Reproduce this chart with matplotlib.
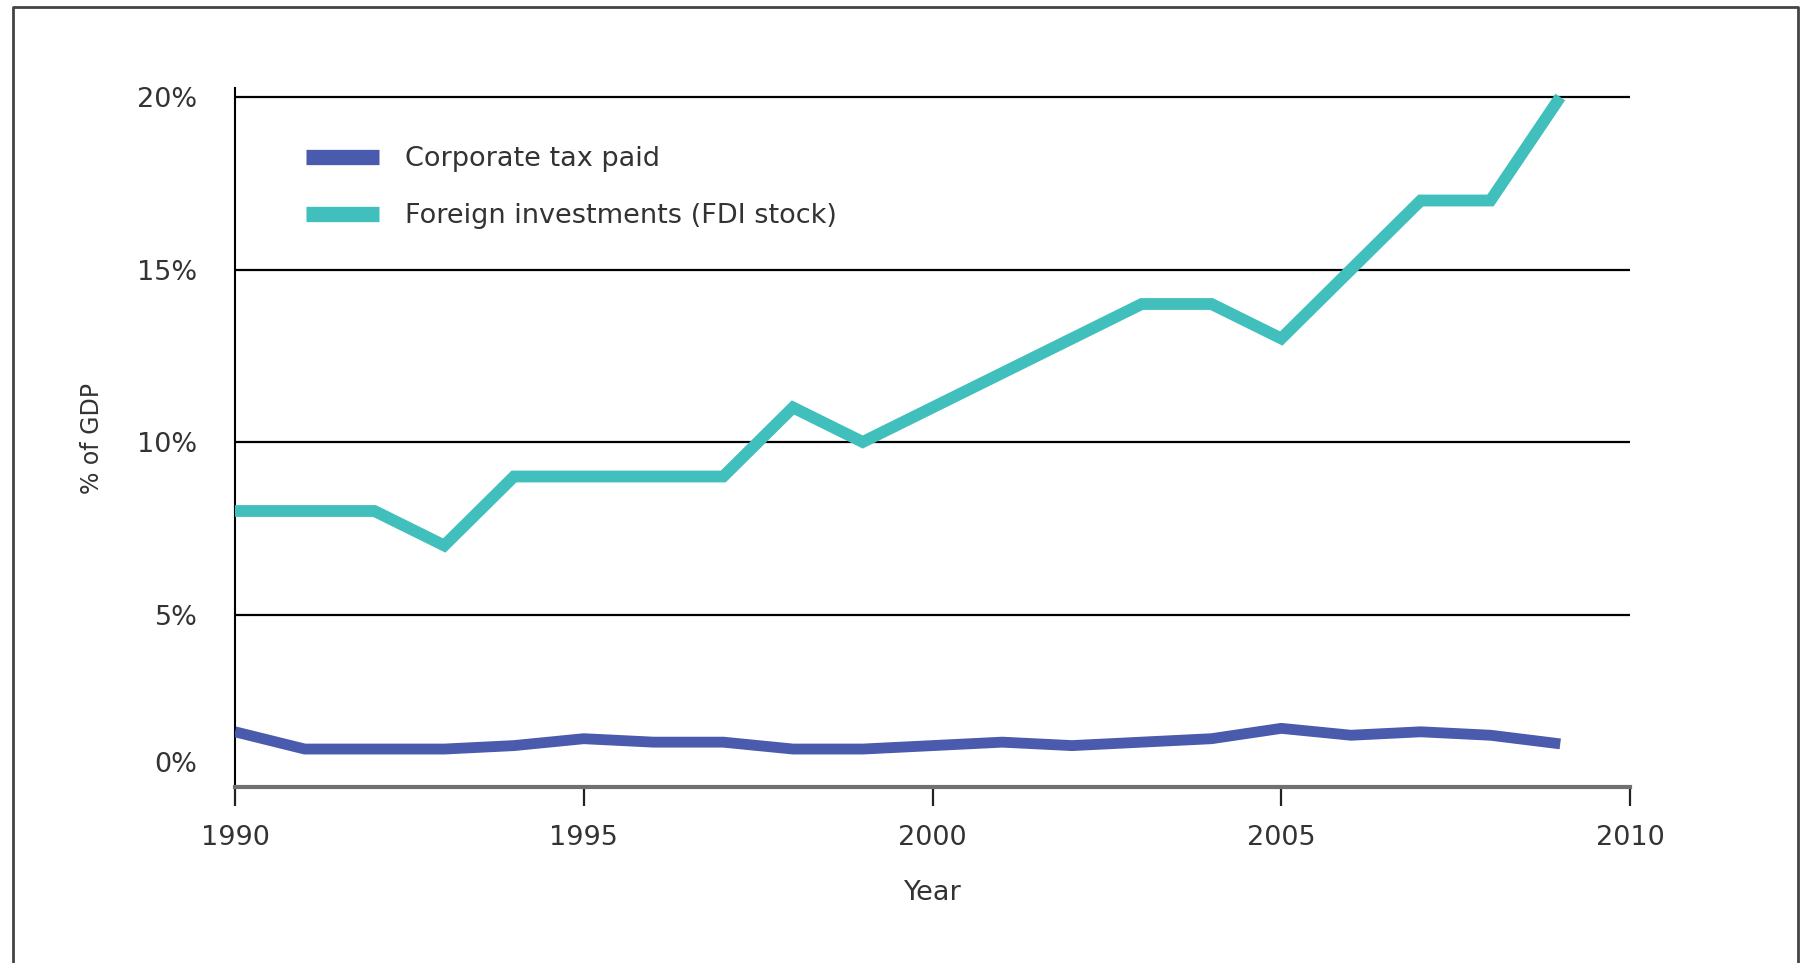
import matplotlib
matplotlib.use("Agg")
import matplotlib.pyplot as plt
from matplotlib.lines import Line2D
from matplotlib.transforms import ScaledTranslation

years = list(range(1990, 2010))
corporate_tax = [1.6, 1.1, 1.1, 1.1, 1.2, 1.4, 1.3, 1.3, 1.1, 1.1,
                 1.2, 1.3, 1.2, 1.3, 1.4, 1.7, 1.5, 1.6, 1.5, 1.25]
fdi_stock = [8, 8, 8, 7, 9, 9, 9, 9, 11, 10,
             11, 12, 13, 14, 14, 13, 15, 17, 17, 20]
series_names = ["Corporate tax paid", "Foreign investments (FDI stock)"]
x_ticks = [1990, 1995, 2000, 2005, 2010]
y_ticks = [0, 5, 10, 15, 20]
y_ticklabels = ["0%", "5%", "10%", "15%", "20%"]

plt.rcParams['font.family'] = ['DejaVu Sans']
W, H, DPI = 1804, 963, 100
fig = plt.figure(figsize=(W / DPI, H / DPI), dpi=DPI)
fig.patch.set_facecolor('white')

FS = 19.5
TC = '#333333'
left, right, top, bottom = 235, 1630, 88, 787
ax = fig.add_axes([left / W, 1 - bottom / H, (right - left) / W, (bottom - top) / H])
ax.set_xlim(1990, 2010)
ax.set_ylim(0, 20 + 9 / 34.5)

for y in y_ticks[1:]:
    ax.axhline(y, color='black', lw=1.6, zorder=1)

c_tax = '#4a5aac'
c_fdi = '#40bfbd'
ax.plot(years, corporate_tax, color=c_tax, lw=7.8, solid_joinstyle='round',
        solid_capstyle='butt', label=series_names[0], zorder=3)
ax.plot(years, fdi_stock, color=c_fdi, lw=8.5, solid_joinstyle='miter',
        solid_capstyle='butt', label=series_names[1], zorder=3)

for s in ['top', 'right']:
    ax.spines[s].set_visible(False)
ax.spines['left'].set_color('black')
ax.spines['left'].set_linewidth(1.5)
ax.spines['bottom'].set_color('#707070')
ax.spines['bottom'].set_linewidth(3)

ax.set_xticks(x_ticks)
ax.set_xticklabels([str(x) for x in x_ticks])
ax.tick_params(axis='x', direction='out', length=14, width=1.6, color='#222222',
               pad=13, labelsize=FS, labelcolor=TC)
ax.set_yticks(y_ticks)
ax.set_yticklabels(y_ticklabels)
ax.tick_params(axis='y', length=0, pad=27, labelsize=FS, labelcolor=TC)
lab0 = ax.get_yticklabels()[0]
lab0.set_transform(lab0.get_transform() + ScaledTranslation(0, 25 / DPI, fig.dpi_scale_trans))

ax.set_xlabel("Year", fontsize=FS, color=TC, labelpad=21)
fig.text(92 / W, 1 - 438 / H, "% of GDP", rotation=90, ha='center', va='center',
         fontsize=17, color=TC)

leg = ax.legend(loc='upper left', bbox_to_anchor=((306 - left) / (right - left), (bottom - 146) / (bottom - top)),
                frameon=False, borderpad=0, borderaxespad=0,
                fontsize=FS, handlelength=2.7, handletextpad=0.95, labelspacing=1.16,
                labelcolor=TC)
for h in leg.get_lines():
    h.set_linewidth(11)

# outer frame
fx = [13 / W, 13 / W, 1798 / W, 1798 / W]
fy = [0, 1 - 7 / H, 1 - 7 / H, 0]
fig.add_artist(Line2D(fx, fy, transform=fig.transFigure, color='#444444', lw=2))

fig.savefig('out.png', dpi=DPI, facecolor='white')
